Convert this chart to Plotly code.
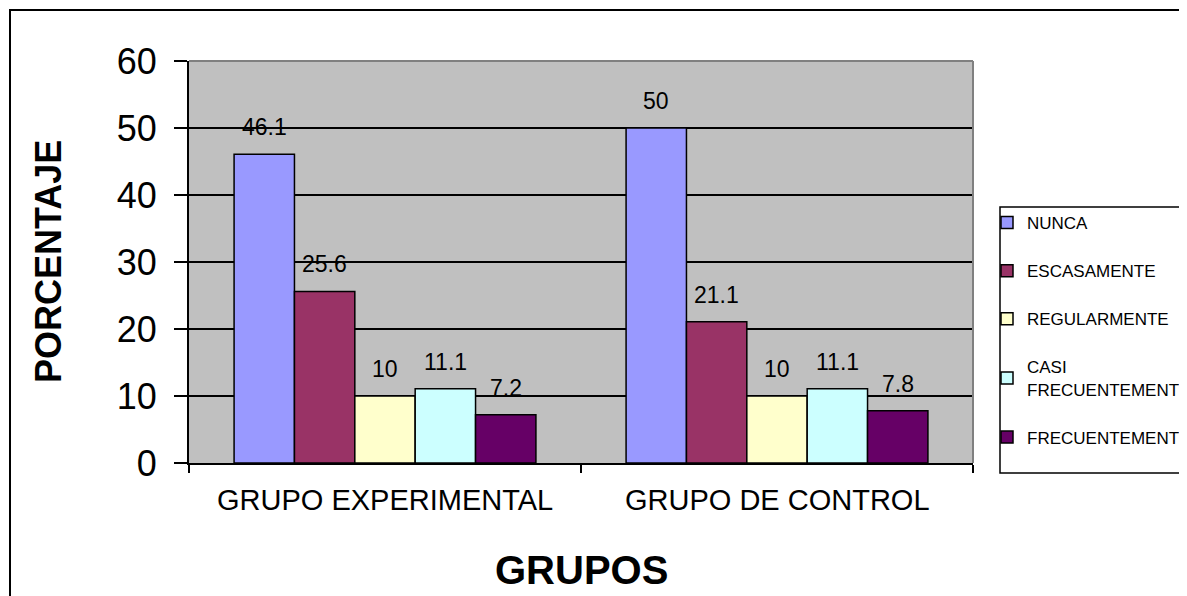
import plotly.graph_objects as go

groups = ["GRUPO EXPERIMENTAL", "GRUPO DE CONTROL"]
series = ["NUNCA", "ESCASAMENTE", "REGULARMENTE", "CASI<br>FRECUENTEMENTE", "FRECUENTEMENTE"]
values = [
    [46.1, 50],
    [25.6, 21.1],
    [10, 10],
    [11.1, 11.1],
    [7.2, 7.8],
]
colors = ["#9999FF", "#993366", "#FFFFCC", "#CCFFFF", "#660066"]
y_ticks = [0, 10, 20, 30, 40, 50, 60]

OFF = 8  # page body margin
W, H = 1187 - OFF, 596 - OFF
# plot area in page pixels
L, R, T, B = 189, 973, 61, 463
bargap = 0.23
n = len(series)
bw = (1 - bargap) / n
xpos = list(range(len(groups)))
FONT = "Arial, Liberation Sans, sans-serif"


def px_x(p):
    return (p - L) / (R - L)


def px_y(p):
    return (B - p) / (B - T)


fig = go.Figure()
for i, (name, vals, col) in enumerate(zip(series, values, colors)):
    fig.add_trace(go.Bar(
        x=xpos, y=vals, name=name, legendgroup=f"g{i}",
        marker=dict(color=col, line=dict(color="black", width=1.5)),
    ))

annotations = []
for i, vals in enumerate(values):
    for g, v in zip(xpos, vals):
        annotations.append(dict(
            x=g + (i - (n - 1) / 2) * bw, y=v, xref="x", yref="y",
            text=f"{v:g}", showarrow=False, yshift=27,
            font=dict(family=FONT, size=23, color="black"),
        ))
for g, lab in zip(xpos, groups):
    annotations.append(dict(
        x=g, y=px_y(500), xref="x", yref="paper", text=lab, showarrow=False,
        yanchor="middle",
        font=dict(family=FONT, size=29, color="black"),
    ))
annotations.append(dict(
    x=px_x(581), y=px_y(570), xref="paper", yref="paper", text="<b>GRUPOS</b>",
    showarrow=False, yanchor="middle", xanchor="center",
    font=dict(family=FONT, size=40, color="black"),
))
annotations.append(dict(
    x=px_x(48), y=px_y(262), xref="paper", yref="paper", text="<b>PORCENTAJE</b>",
    showarrow=False, yanchor="middle", xanchor="center", textangle=-90,
    font=dict(family=FONT, size=36, color="black"),
))
# title cut off at the top edge
annotations.append(dict(
    x=px_x(588), y=px_y(12), xref="paper", yref="paper",
    text="canT", showarrow=False, yanchor="bottom",
    font=dict(family=FONT, size=22, color="black"),
))

shapes = [
    dict(type="rect", xref="paper", yref="paper", x0=px_x(10), x1=px_x(1300),
         y0=px_y(700), y1=px_y(10), line=dict(color="black", width=2), layer="below"),
    dict(type="rect", xref="paper", yref="paper", x0=px_x(1000), x1=px_x(1300),
         y0=px_y(473), y1=px_y(207), line=dict(color="black", width=1.5), layer="below"),
    dict(type="line", xref="paper", yref="paper", x0=0, x1=1, y0=1, y1=1,
         line=dict(color="#808080", width=2), layer="above"),
    dict(type="line", xref="paper", yref="paper", x0=1, x1=1, y0=0, y1=1,
         line=dict(color="#808080", width=2), layer="above"),
]

fig.update_layout(
    width=W, height=H,
    margin=dict(l=L - OFF, r=W - (R - OFF), t=T - OFF, b=H - (B - OFF), autoexpand=False),
    paper_bgcolor="white", plot_bgcolor="#C0C0C0",
    barmode="group", bargap=bargap, bargroupgap=0,
    font=dict(family=FONT, color="black"),
    showlegend=True,
    legend=dict(
        x=px_x(987), y=px_y(205), xanchor="left", yanchor="top",
        bgcolor="rgba(0,0,0,0)", borderwidth=0,
        font=dict(family=FONT, size=17, color="black"),
        tracegroupgap=23, itemwidth=30,
    ),
    xaxis=dict(
        range=[-0.5, 1.5], tickvals=xpos, ticktext=["", ""], ticks="",
        showgrid=False, zeroline=False, showline=True, linecolor="black", linewidth=2,
        minor=dict(tickvals=[-0.5, 0.5, 1.5], ticks="outside", ticklen=8,
                   tickcolor="black", tickwidth=2, showgrid=False),
    ),
    yaxis=dict(
        range=[0, 60], tickvals=y_ticks, ticks="outside", ticklen=13,
        tickcolor="black", tickwidth=2,
        showgrid=True, gridcolor="black", gridwidth=1.5, zeroline=False,
        showline=True, linecolor="black", linewidth=2,
        tickfont=dict(size=36), ticklabelstandoff=10,
    ),
    annotations=annotations, shapes=shapes,
)
fig.write_html("out.html")
